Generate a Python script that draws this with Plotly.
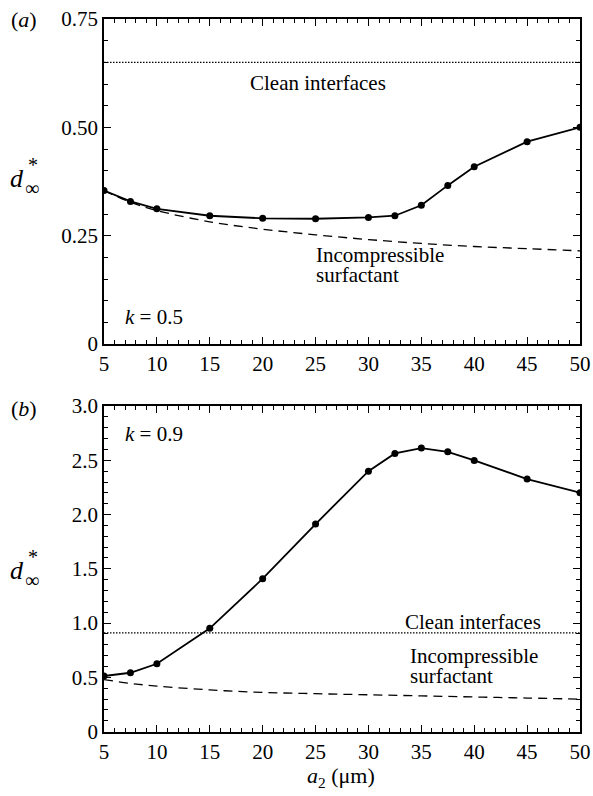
import plotly.graph_objects as go

# ---- data ----
a2 = [5, 7.5, 10, 15, 20, 25, 30, 32.5, 35, 37.5, 40, 45, 50]
d_k05 = [0.354, 0.329, 0.312, 0.296, 0.290, 0.289, 0.292, 0.296, 0.320, 0.366, 0.409, 0.467, 0.500]
d_k09 = [0.513, 0.543, 0.626, 0.952, 1.409, 1.913, 2.400, 2.563, 2.612, 2.578, 2.499, 2.327, 2.201]

a2_inc = [5, 7.5, 10, 15, 20, 25, 30, 35, 40, 45, 50]
inc_k05 = [0.354, 0.327, 0.308, 0.282, 0.265, 0.252, 0.241, 0.232, 0.225, 0.220, 0.215]
inc_k09 = [0.480, 0.445, 0.420, 0.385, 0.362, 0.350, 0.340, 0.330, 0.320, 0.310, 0.300]

clean_x = [5, 50]
clean_k05 = [0.65, 0.65]
clean_k09 = [0.91, 0.91]

x_ticks = [5, 10, 15, 20, 25, 30, 35, 40, 45, 50]
y_ticks_a = [0, 0.25, 0.5, 0.75]
y_text_a = ["0", "0.25", "0.50", "0.75"]
y_ticks_b = [0, 0.5, 1.0, 1.5, 2.0, 2.5, 3.0]
y_text_b = ["0", "0.5", "1.0", "1.5", "2.0", "2.5", "3.0"]

FONT = "Liberation Serif"
FS = 21
W, H = 593, 796

def px(X):
    return X / W

def py(Y):
    return 1 - Y / H

fig = go.Figure()

def add_panel(xa, ya, d, inc, clean):
    fig.add_trace(go.Scatter(x=clean_x, y=clean, mode="lines", xaxis=xa, yaxis=ya,
                             line=dict(color="black", width=1.3, dash="1.5px,1.5px"), showlegend=False))
    fig.add_trace(go.Scatter(x=a2_inc, y=inc, mode="lines", xaxis=xa, yaxis=ya,
                             line=dict(color="black", width=1.3, dash="9px,6px", shape="spline"),
                             showlegend=False))
    fig.add_trace(go.Scatter(x=a2, y=d, mode="lines+markers", xaxis=xa, yaxis=ya,
                             line=dict(color="black", width=1.8),
                             marker=dict(color="black", size=7), showlegend=False))

add_panel("x", "y", d_k05, inc_k05, clean_k05)
add_panel("x2", "y2", d_k09, inc_k09, clean_k09)

xdom = [px(104), px(580)]
dom_a = [py(344), py(19)]
dom_b = [py(731.7), py(406)]

common = dict(showline=True, linecolor="black", linewidth=1.6, mirror="allticks",
              ticks="inside", ticklen=7, tickwidth=1.2, tickcolor="black",
              showgrid=False, zeroline=False, automargin=False, ticklabeloverflow="allow",
              tickfont=dict(family=FONT, size=FS, color="black"))

xcommon = dict(common, range=[5, 50], tickvals=x_ticks,
               minor=dict(dtick=1, tick0=5, ticks="inside", ticklen=4, tickwidth=1, tickcolor="black"))

fig.update_layout(
    width=W, height=H,
    margin=dict(l=0, r=0, t=0, b=0),
    paper_bgcolor="white", plot_bgcolor="white",
    font=dict(family=FONT, size=FS, color="black"),
    xaxis=dict(xcommon, domain=xdom, anchor="y"),
    yaxis=dict(common, domain=dom_a, anchor="x", range=[0, 0.75],
               tickvals=y_ticks_a, ticktext=y_text_a,
               minor=dict(dtick=0.05, tick0=0, ticks="inside", ticklen=4, tickwidth=1, tickcolor="black")),
    xaxis2=dict(xcommon, domain=xdom, anchor="y2"),
    yaxis2=dict(common, domain=dom_b, anchor="x2", range=[0, 3.0],
                tickvals=y_ticks_b, ticktext=y_text_b,
                minor=dict(dtick=0.1, tick0=0, ticks="inside", ticklen=4, tickwidth=1, tickcolor="black")),
)

ann = []
def text(x, y, s, xref="paper", yref="paper", xanchor="center", yanchor="middle", size=FS, align="left"):
    ann.append(dict(x=x, y=y, text=s, xref=xref, yref=yref, xanchor=xanchor, yanchor=yanchor,
                    showarrow=False, align=align, font=dict(family=FONT, size=size, color="black")))

# panel labels
text(px(9), py(19), "(<i>a</i>)", xanchor="left", size=22)
text(px(9), py(408), "(<i>b</i>)", xanchor="left", size=22)

# y-axis titles d*_inf
for base in (176, 568):
    text(px(17), py(base + 2), "<i>d</i>", xanchor="center", size=26)
    text(px(33), py(base - 11), "*", xanchor="center", size=20)
    text(px(32), py(base + 12), "∞", xanchor="center", size=20)

# x-axis title
text(px(341), py(777), "<i>a</i><sub>2</sub> (μm)", size=22)

# panel (a) texts
text(25.2, 0.603, "Clean interfaces", xref="x", yref="y")
text(px(314), py(255), "Incompressible", xanchor="left")
text(px(314), py(275), "surfactant", xanchor="left")
text(6.8, 0.062, "<i>k</i> = 0.5", xref="x", yref="y", xanchor="left")

# panel (b) texts
text(39.9, 1.013, "Clean interfaces", xref="x2", yref="y2")
text(px(408), py(656), "Incompressible", xanchor="left")
text(px(408), py(676), "surfactant", xanchor="left")
text(6.8, 2.74, "<i>k</i> = 0.9", xref="x2", yref="y2", xanchor="left")

fig.update_layout(annotations=ann)
fig.write_html("out.html", config={"displayModeBar": False},
               post_script="document.body.style.margin='0';document.body.style.overflow='hidden';")
